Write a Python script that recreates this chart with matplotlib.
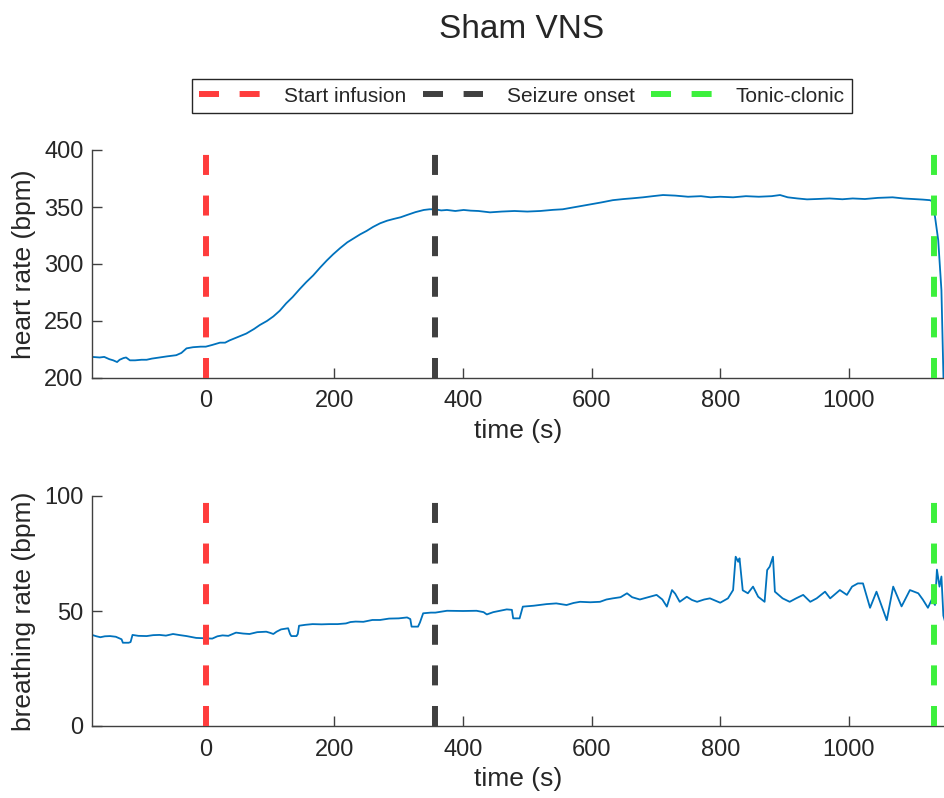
import numpy as np
import matplotlib
matplotlib.use("Agg")
import matplotlib.pyplot as plt

plt.rcParams['font.family'] = ['Liberation Sans', 'DejaVu Sans']

# event times (s)
t_infusion = 0
t_onset = 357
t_tonic = 1132

# heart rate (bpm)
hr_t = [-177, -165, -158, -150, -144, -138, -134, -128, -124, -118, -110, -100, -92, -84, -72, -60,
        -46, -38, -30, -20, -8, 0, 10, 22, 30, 37, 50, 63, 75, 84, 95, 105, 115, 125, 135, 146,
        156, 167, 178, 188, 198, 209, 220, 230, 240, 250, 260, 271, 282, 292, 303, 313, 326, 339,
        348, 357, 366, 375, 388, 401, 412, 424, 442, 460, 480, 500, 520, 540, 555, 570, 585, 600,
        615, 633, 650, 663, 680, 695, 711, 730, 750, 770, 785, 800, 820, 840, 860, 880, 893, 905,
        920, 935, 950, 970, 990, 1006, 1025, 1045, 1068, 1085, 1100, 1115, 1126, 1130, 1134, 1139,
        1144, 1147, 1150]
hr = [218.5, 218, 218.5, 216.5, 215.5, 214, 216, 217.5, 218, 215.5, 215.5, 216, 216, 217, 218, 219,
      220, 222, 226, 227, 227.5, 227.5, 229, 231, 231, 233, 236, 239, 243, 246.5, 250, 254, 259,
      265.5, 271, 278, 284, 290, 297, 303, 308.5, 314, 319, 322.5, 326, 329, 332.5, 335.7, 338,
      339.5, 341, 343, 345.5, 347.4, 348, 348, 347, 347.4, 346.5, 347.4, 346.8, 346.5, 345.3, 346,
      346.5, 346, 346.5, 347.5, 348, 349.5, 351, 352.5, 354, 356, 357, 357.6, 358.5, 359.5, 360.5,
      360, 359, 359.5, 358.5, 359, 358.5, 359.5, 359, 359.5, 360.5, 358.5, 357.5, 356.7, 357, 357.5,
      356.8, 357.5, 357, 358, 358.5, 357.5, 357, 356.5, 356, 355, 341.5, 321, 277, 204, 150]

# breathing rate (bpm)
br_t = [-177, -170, -164, -157, -149, -140, -131, -129, -120, -117, -114, -105, -92, -82, -72, -62,
        -51, -40, -30, -15, 0, 10, 18, 26, 35, 47, 58, 68, 80, 94, 100, 105, 110, 117, 128, 131,
        133, 141, 143, 145, 155, 166, 180, 192, 205, 218, 225, 233, 245, 259, 271, 285, 300, 313,
        318, 320, 330, 333, 338, 350, 357, 375, 400, 421, 432, 437, 447, 468, 476, 478, 488, 493,
        510, 530, 545, 561, 572, 582, 598, 613, 623, 633, 645, 655, 663, 675, 688, 701, 710, 717,
        725, 730, 737, 748, 756, 764, 775, 784, 800, 812, 820, 824, 828, 830, 835, 843, 851, 859,
        869, 873, 877, 882, 885, 897, 908, 918, 929, 940, 950, 963, 971, 986, 997, 1005, 1014, 1022,
        1033, 1043, 1059, 1069, 1082, 1095, 1108, 1115, 1123, 1129, 1134, 1137, 1141, 1144, 1147,
        1150]
br = [39.6, 39, 38.6, 39, 39.1, 38.8, 37.7, 36.2, 36.2, 36.5, 39.6, 39.2, 39.1, 39.5, 39.6, 39.3,
      40, 39.5, 39.1, 38.3, 38.1, 38, 39, 39.4, 39.2, 40.6, 40.2, 40, 40.8, 41, 40.5, 40, 41, 42,
      42.5, 40, 39.1, 39.1, 40, 43.6, 44, 44.3, 44.2, 44.3, 44.3, 44.6, 45.2, 45.4, 45.3, 46.1,
      46.1, 46.7, 46.8, 47.2, 46.5, 43.2, 43.2, 45, 49, 49.3, 49.3, 50.1, 50, 50.1, 49.5, 48.5,
      49.5, 50.7, 50.5, 46.8, 46.8, 51.9, 52.3, 53, 53.3, 52.6, 53.5, 54, 53.8, 54, 55, 55.5, 56,
      57.7, 56, 55, 56, 57, 55, 51.9, 59.1, 57.5, 54, 56.2, 54.8, 54, 55, 55.5, 53.6, 55.5, 59.1,
      73.6, 71.4, 72.9, 59, 57.7, 60.6, 56.2, 54, 67.8, 69.3, 73.6, 58.4, 55.5, 54, 55.5, 57, 54,
      55.5, 58.4, 55.5, 59.1, 57, 60.6, 62, 62, 51.4, 58.4, 46, 60.6, 52, 59.1, 57.7, 55, 51.4, 55,
      52.6, 68, 60.6, 65, 48, 45]

blue = '#0072BD'
txt = '#262626'
events = [(t_infusion, '#ff3c3c', 'Start infusion'),
          (t_onset, '#404040', 'Seizure onset'),
          (t_tonic, '#3cf03c', 'Tonic-clonic')]

fig = plt.figure(figsize=(9.44, 7.98), dpi=100)
ax1 = fig.add_axes([92 / 944, 1 - 378 / 798, 852 / 944, 228 / 798])
ax2 = fig.add_axes([92 / 944, 1 - 726 / 798, 852 / 944, 230 / 798])

ax1.plot(hr_t, hr, color=blue, lw=1.3, zorder=2)
ax2.plot(br_t, br, color=blue, lw=1.3, zorder=2)

handles = []
for ax in (ax1, ax2):
    for t, c, lab in events:
        h = ax.axvline(t, color=c, lw=4.3, dashes=(3.35, 3.45), label=lab, zorder=3)
        if ax is ax1:
            handles.append(h)

ax1.set_ylim(200, 400)
ax1.set_yticks([200, 250, 300, 350, 400])
ax1.set_ylabel('heart rate (bpm)', fontsize=19, color=txt, labelpad=6)
ax2.set_ylim(0, 100)
ax2.set_yticks([0, 50, 100])
ax2.set_ylabel('breathing rate (bpm)', fontsize=19, color=txt, labelpad=6)

for ax in (ax1, ax2):
    ax.set_xlim(-177, 1148)
    ax.set_xticks([0, 200, 400, 600, 800, 1000])
    ax.set_xlabel('time (s)', fontsize=19, color=txt, labelpad=5)
    ax.spines['top'].set_visible(False)
    ax.spines['right'].set_visible(False)
    for s in ('left', 'bottom'):
        ax.spines[s].set_color('#404040')
        ax.spines[s].set_linewidth(1.0)
    ax.tick_params(direction='in', length=7, width=1.0, colors='#404040',
                   labelsize=17, labelcolor=txt)
    ax.tick_params(axis='x', pad=9)
    ax.tick_params(axis='y', pad=6)

fig.text(0.553, 1 - 30 / 798, 'Sham VNS', ha='center', va='center', fontsize=24, color=txt)

fig.legend(handles=handles, loc='center', bbox_to_anchor=(0.553, 1 - 96 / 798), ncol=3,
           fontsize=15, frameon=True, fancybox=False, edgecolor='#262626', framealpha=1,
           handlelength=2.9, handletextpad=1.15, columnspacing=0.8, borderpad=0.35,
           labelcolor=txt)

fig.savefig('out.png', dpi=100)
